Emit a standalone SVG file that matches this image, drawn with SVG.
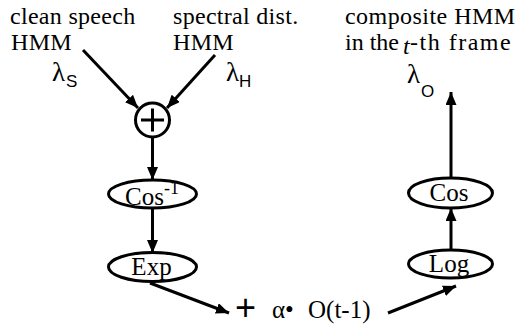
<svg xmlns="http://www.w3.org/2000/svg" width="520" height="331" viewBox="0 0 520 331">
<defs>
<marker id="ah" markerWidth="13" markerHeight="11" refX="13" refY="5.5" orient="auto" markerUnits="userSpaceOnUse">
<path d="M0,0 L13,5.5 L0,11 Z" fill="#000"/>
</marker>
<style>
.t{font-family:"Liberation Serif","Times New Roman",serif;fill:#000}
.sub{font-family:"Liberation Sans",Arial,sans-serif}
.n{fill:#fff;stroke:#000;stroke-width:3}
.c{stroke:#000;stroke-width:3;fill:none}
</style>
</defs>
<rect width="520" height="331" fill="#fff"/>
<g id="labels">
<text class="t" x="10" y="23.5" font-size="24" letter-spacing="0.3">clean speech</text>
<text class="t" x="11" y="50" font-size="24" letter-spacing="0.3">HMM</text>
<text class="t" x="173" y="23.5" font-size="24" letter-spacing="0.3">spectral dist.</text>
<text class="t" x="173" y="50" font-size="24" letter-spacing="0.3">HMM</text>
<text class="t" x="345" y="23.5" font-size="24" letter-spacing="0.45">composite HMM</text>
<text class="t" x="345" y="50" font-size="24">in the</text>
<text class="t" x="403" y="54" font-size="24" font-style="italic">t</text>
<text class="t" x="410" y="50" font-size="24" letter-spacing="1.5">-th frame</text>
<text class="t" x="52" y="81" font-size="27">λ<tspan class="sub" font-size="17" dy="6" dx="1">S</tspan></text>
<text class="t" x="226" y="81" font-size="27">λ<tspan class="sub" font-size="17" dy="6">H</tspan></text>
<text class="t" x="407" y="83" font-size="27">λ<tspan class="sub" font-size="17" dy="14" dx="1">O</tspan></text>
</g>
<g id="connectors">
<line class="c" x1="83" y1="50" x2="138" y2="108" marker-end="url(#ah)"/>
<line class="c" x1="215" y1="55" x2="167" y2="108" marker-end="url(#ah)"/>
<line class="c" x1="152.5" y1="137" x2="152.5" y2="180" marker-end="url(#ah)"/>
<line class="c" x1="152.5" y1="208" x2="152.5" y2="253" marker-end="url(#ah)"/>
<line class="c" x1="150" y1="283" x2="229" y2="313" marker-end="url(#ah)"/>
<line class="c" x1="388" y1="313" x2="456" y2="286" marker-end="url(#ah)"/>
<line class="c" x1="451" y1="250" x2="451" y2="208" marker-end="url(#ah)"/>
<line class="c" x1="451" y1="178" x2="451" y2="92" marker-end="url(#ah)"/>
</g>
<g id="sum">
<circle class="n" cx="152.5" cy="120" r="17"/>
<path class="c" d="M141,120 H164 M152.5,108.5 V131.5"/>
</g>
<g id="cosinv">
<ellipse class="n" cx="152.5" cy="194" rx="44" ry="14"/>
<text class="t" x="125" y="205" font-size="25">Cos<tspan font-size="18" dy="-11">-1</tspan></text>
</g>
<g id="exp">
<ellipse class="n" cx="152.5" cy="267" rx="44" ry="14.5"/>
<text class="t" x="151.5" y="275" font-size="25" text-anchor="middle">Exp</text>
</g>
<g id="feedback">
<text class="sub" x="235" y="320" font-size="36">+</text>
<text class="t" x="272" y="318" font-size="25">α•</text>
<text class="t" x="308" y="318" font-size="25">O(t-1)</text>
</g>
<g id="log">
<ellipse class="n" cx="450.5" cy="264" rx="42" ry="14"/>
<text class="t" x="449" y="272" font-size="25" text-anchor="middle">Log</text>
</g>
<g id="cos">
<ellipse class="n" cx="450.5" cy="193" rx="42" ry="15"/>
<text class="t" x="449" y="201" font-size="25" text-anchor="middle">Cos</text>
</g>
</svg>
